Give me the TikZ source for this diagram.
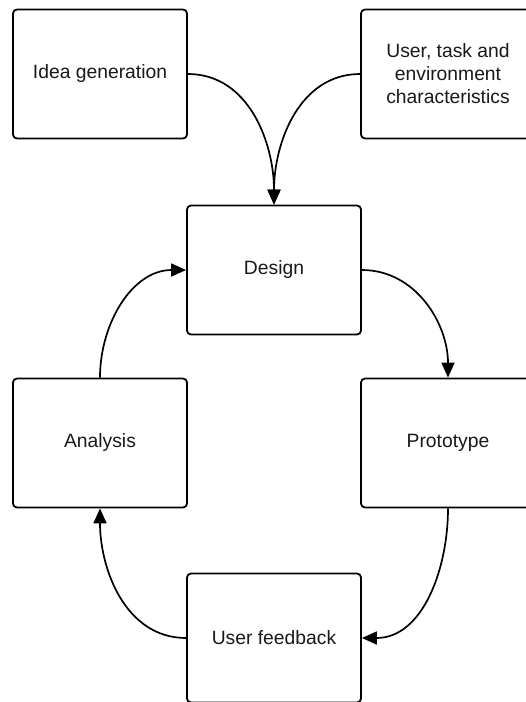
\documentclass[tikz,border=0pt]{standalone}
\usepackage{fontspec}
\setmainfont{Liberation Sans}
\usetikzlibrary{arrows.meta}
\tikzset{
  box/.style={draw, line width=1.8pt, rounded corners=4pt, minimum width=174pt, minimum height=129pt,
    align=center, font=\fontsize{19.3}{23}\selectfont, text=black!90, inner sep=0pt},
  flow/.style={line width=1.7pt, -{Triangle[length=15pt,width=13pt]}}
}
\begin{document}
\begin{tikzpicture}[x=1pt,y=-1pt]
\clip (0,0) rectangle (526,702);
\fill[white] (0,0) rectangle (526,702);
\node[box] (idea) at (100,74) {Idea generation};
\node[box] (user) at (448,74) {User, task and\\environment\\characteristics};
\node[box] (design) at (274,270) {Design};
\node[box] (analysis) at (100,443) {Analysis};
\node[box] (proto) at (448,443) {Prototype};
\node[box] (feedback) at (274,638) {User feedback};
\draw[flow] (idea.east) to[out=0,in=90] (design.north);
\draw[flow] (user.west) to[out=180,in=90] (design.north);
\draw[flow] (design.east) to[out=0,in=90] (proto.north);
\draw[flow] (proto.south) to[out=-90,in=0] (feedback.east);
\draw[flow] (feedback.west) to[out=180,in=-90] (analysis.south);
\draw[flow] (analysis.north) to[out=90,in=180] (design.west);
\end{tikzpicture}
\end{document}
